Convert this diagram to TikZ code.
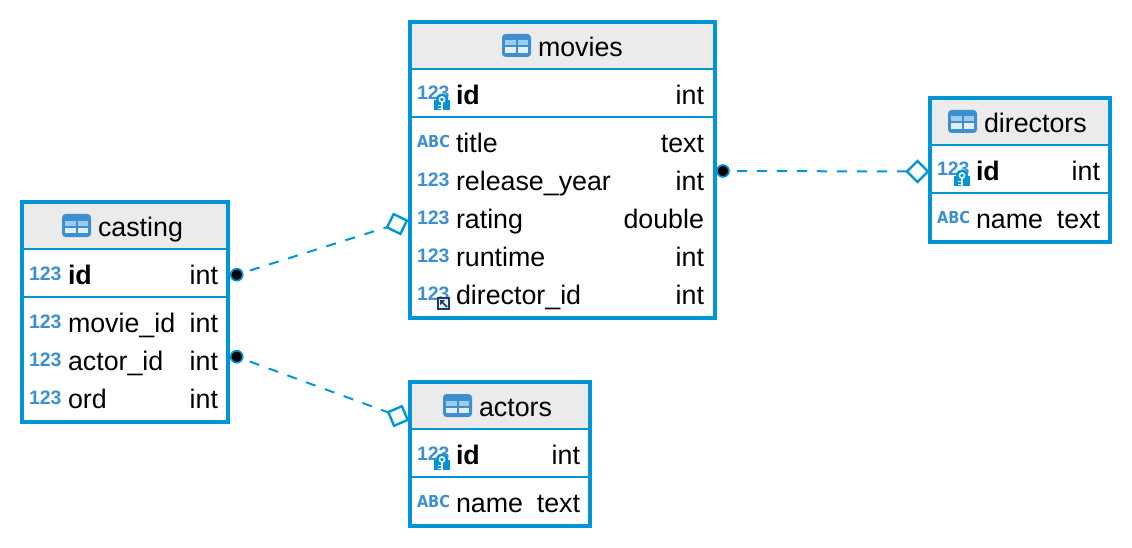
\documentclass[tikz,border=0pt]{standalone}
\usepackage{fontspec}
\setmainfont{Liberation Sans}
\newfontfamily\iconfont{DejaVu Sans}
\usetikzlibrary{shapes.geometric}
\definecolor{frameblue}{HTML}{0095D5}
\definecolor{iconblue}{HTML}{3D8FCF}
\definecolor{iconlight}{HTML}{9CCBEC}
\definecolor{headgrey}{HTML}{EBEBEB}
\definecolor{fknavy}{HTML}{1F3A66}
\tikzset{
  every node/.style={inner sep=0pt,outer sep=0pt},
  tableframe/.style={draw=frameblue,line width=4pt,rectangle,anchor=north west},
  rowline/.style={draw=frameblue,line width=2pt},
  fieldtext/.style={anchor=base west,yshift=-0.7pt,font=\fontsize{26.8}{26.8}\selectfont,text=black},
  boldtext/.style={anchor=base west,yshift=-0.7pt,font=\fontsize{26.8}{26.8}\selectfont\bfseries,text=black},
  typetext/.style={anchor=base east,yshift=-0.7pt,font=\fontsize{26.8}{26.8}\selectfont,text=black},
  numicon/.style={anchor=base west,yshift=0.5pt,font=\fontsize{19.5}{19.5}\selectfont\bfseries,text=iconblue},
  abcicon/.style={anchor=base west,yshift=-1.5pt,font=\iconfont\fontsize{16.5}{16.5}\selectfont\bfseries,text=iconblue},
  onedot/.style={circle,draw=frameblue,fill=black,line width=1.7pt,minimum size=12pt},
  manydiamond/.style={diamond,aspect=1,draw=frameblue,fill=white,line width=2.4pt,minimum size=21pt},
  relation/.style={draw=frameblue,line width=2pt,dash pattern=on 10pt off 10pt,shorten <=8pt},
}
\newcommand{\abclabel}{\scalebox{0.88}[1]{ABC}}
% #1 name, #2 left, #3 top, #4 right, #5 bottom, #6 title, #7 y of line 1, #8 y of line 2
\newcommand{\erbox}[8]{%
  \fill[headgrey] (#2,#3) rectangle (#4,#7);
  \node[tableframe,minimum width={(#4-#2)*1pt},minimum height={(#5-#3)*1pt}] (#1) at (#2,#3) {};
  \draw[rowline] (#1.west |- 0,#7) -- (#1.east |- 0,#7);
  \draw[rowline] (#1.west |- 0,#8) -- (#1.east |- 0,#8);
  \node[fieldtext] (#1-title) at ({#2+88+\titleshift},{#7-13}) {#6};
  \begin{scope}[shift={({#2+\titleshift+52},{#7-35})}]
    \fill[iconblue,rounded corners=3.5pt] (0,0) rectangle (29,23);
    \fill[iconlight] (3,6.5) rectangle (13.5,11.5);
    \fill[iconlight] (15.5,6.5) rectangle (26,11.5);
    \fill[white!85!iconblue] (3,13.5) rectangle (13.5,19);
    \fill[white!85!iconblue] (15.5,13.5) rectangle (26,19);
  \end{scope}
}
\newcommand{\titleshift}{0}
% key badge at top-left #1,#2
\newcommand{\keybadge}[2]{%
  \begin{scope}[shift={(#1,#2)}]
    \fill[frameblue] (0,5) rectangle (16,15);
    \fill[frameblue] (8,4.5) circle (6);
    \draw[white,line width=1.5pt] (8,4.5) circle (2.6);
    \draw[white,line width=1.8pt] (8,7.2) -- (8,15);
    \draw[white,line width=1.4pt] (8,10.5) -- (4,10.5) (8,13.5) -- (4,13.5);
  \end{scope}}
% foreign key badge
\newcommand{\fkbadge}[2]{%
  \begin{scope}[shift={(#1,#2)}]
    \fill[fknavy] (0,0) rectangle (13,13);
    \fill[white!85!iconblue] (2,2) rectangle (11,11);
    \draw[fknavy,line width=1.6pt] (4,4) -- (10,10);
    \fill[fknavy] (3,3) -- (8,3) -- (3,8) -- cycle;
  \end{scope}}
\begin{document}
\begin{tikzpicture}[x=1pt,y=-1pt]
\useasboundingbox (0,0) rectangle (1132,548);

% movies
\renewcommand{\titleshift}{40}
\erbox{movies}{410}{22}{715}{318}{movies}{69}{117}
\node[numicon] (mv1i) at (417,100.5) {123};
\keybadge{434}{95}
\node[boldtext] (mv1l) at (456,104) {id};
\node[typetext] (mv1t) at (704,104) {int};
\node[abcicon] (mv2i) at (417,146) {\abclabel};
\node[fieldtext] (mv2l) at (456,152) {title};
\node[typetext] (mv2t) at (704,152) {text};
\node[numicon] (mv3i) at (417,186.5) {123};
\node[fieldtext] (mv3l) at (456,190) {release\_year};
\node[typetext] (mv3t) at (704,190) {int};
\node[numicon] (mv4i) at (417,224.5) {123};
\node[fieldtext] (mv4l) at (456,228) {rating};
\node[typetext] (mv4t) at (704,228) {double};
\node[numicon] (mv5i) at (417,262.5) {123};
\node[fieldtext] (mv5l) at (456,266) {runtime};
\node[typetext] (mv5t) at (704,266) {int};
\node[numicon] (mv6i) at (417,300.5) {123};
\fkbadge{437}{297}
\node[fieldtext] (mv6l) at (456,304) {director\_id};
\node[typetext] (mv6t) at (704,304) {int};

% directors
\renewcommand{\titleshift}{-34}
\erbox{directors}{930}{98}{1110}{242}{directors}{145}{193}
\node[numicon] (dr1i) at (937,176.5) {123};
\keybadge{954}{171}
\node[boldtext] (dr1l) at (976,180) {id};
\node[typetext] (dr1t) at (1100,180) {int};
\node[abcicon] (dr2i) at (937,222) {\abclabel};
\node[fieldtext] (dr2l) at (976,228) {name};
\node[typetext] (dr2t) at (1100,228) {text};

% casting
\renewcommand{\titleshift}{-12}
\erbox{casting}{22}{202}{228}{422}{casting}{249}{297}
\node[numicon] (cs1i) at (29,280.5) {123};
\node[boldtext] (cs1l) at (68,284) {id};
\node[typetext] (cs1t) at (218,284) {int};
\node[numicon] (cs2i) at (29,328.5) {123};
\node[fieldtext] (cs2l) at (68,332) {movie\_id};
\node[typetext] (cs2t) at (218,332) {int};
\node[numicon] (cs3i) at (29,366.5) {123};
\node[fieldtext] (cs3l) at (68,370) {actor\_id};
\node[typetext] (cs3t) at (218,370) {int};
\node[numicon] (cs4i) at (29,404.5) {123};
\node[fieldtext] (cs4l) at (68,408) {ord};
\node[typetext] (cs4t) at (218,408) {int};

% actors
\renewcommand{\titleshift}{-19}
\erbox{actors}{410}{382}{590}{526}{actors}{429}{477}
\node[numicon] (ac1i) at (417,460.5) {123};
\keybadge{434}{455}
\node[boldtext] (ac1l) at (456,464) {id};
\node[typetext] (ac1t) at (580,464) {int};
\node[abcicon] (ac2i) at (417,506) {\abclabel};
\node[fieldtext] (ac2l) at (456,512) {name};
\node[typetext] (ac2t) at (580,512) {text};

% relations
\node[onedot] (dotA) at (723,171) {};
\node[manydiamond] (diaA) at (917.5,171.5) {};
\node[onedot] (dotB) at (236.7,274.7) {};
\node[manydiamond,rotate=19] (diaB) at (397,224) {};
\node[onedot] (dotC) at (236.7,356.7) {};
\node[manydiamond,rotate=-22] (diaC) at (398,416) {};
\draw[relation] (dotA) -- (diaA);
\draw[relation] (dotB) -- (diaB);
\draw[relation] (dotC) -- (diaC);
\end{tikzpicture}
\end{document}
